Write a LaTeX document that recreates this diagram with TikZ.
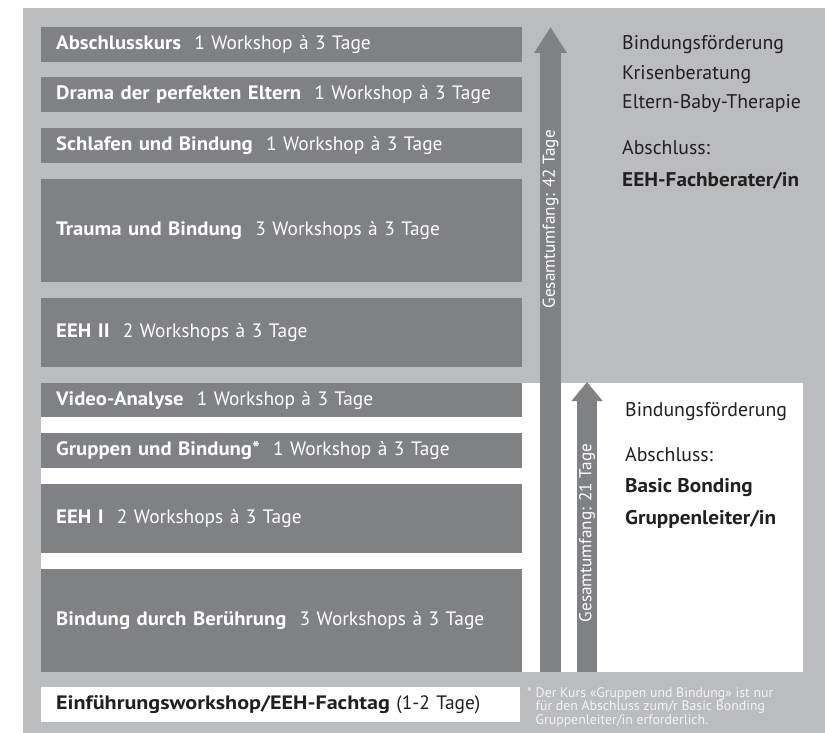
\documentclass[tikz,border=0pt]{standalone}
\usepackage{fontspec}
\usepackage{graphicx}
\setmainfont{PT Sans}[BoldFeatures={FakeStretch=1.07}]
\usetikzlibrary{arrows.meta}
\definecolor{bggrey}{HTML}{BBBCBF}
\definecolor{boxgrey}{HTML}{808185}
\definecolor{txtdark}{HTML}{231F20}
\definecolor{fnote}{HTML}{F4F4F4}
\newcommand{\gapsp}{\hspace{0.68em}}
\begin{document}
\begin{tikzpicture}[x=1pt,y=-1pt,
  box/.style={fill=boxgrey, text=white, anchor=north west, inner xsep=15pt, inner ysep=0pt,
    text width=451pt, align=left, font=\fontsize{19.4}{22}\selectfont},
  whitebox/.style={box, fill=white, text=txtdark, text width=449pt},
  sidetext/.style={anchor=west, inner sep=0pt, text=txtdark, font=\fontsize{19.8}{22}\selectfont},
  bigarrow/.style={boxgrey, line width=21pt, -{Triangle[width=31pt,length=26pt]}},
  smallarrow/.style={boxgrey, line width=20pt, -{Triangle[width=30pt,length=19pt]}},
  arrowlabel/.style={rotate=90, text=white, inner sep=0pt, font=\fontsize{17.2}{20}\selectfont},
  footnote/.style={anchor=north west, inner sep=0pt, align=left, text=fnote, font=\fontsize{13.8}{13.6}\selectfont}
]
\useasboundingbox (0,0) rectangle (825,733);
\fill[bggrey] (23,8) rectangle (825,733);
\fill[white] (41,383) rectangle (803,672);

% course boxes
\node[box, minimum height=35pt] (abschluss) at (41,27) {\textbf{Abschlusskurs}\gapsp 1 Workshop à 3 Tage};
\node[box, minimum height=35pt] (drama) at (41,77) {\textbf{Drama der perfekten Eltern}\gapsp 1 Workshop à 3 Tage};
\node[box, minimum height=35pt] (schlafen) at (41,128) {\textbf{Schlafen und Bindung}\gapsp 1 Workshop à 3 Tage};
\node[box, minimum height=103pt] (trauma) at (41,179) {\textbf{Trauma und Bindung}\gapsp 3 Workshops à 3 Tage};
\node[box, minimum height=69pt] (eeh2) at (41,298) {\textbf{EEH II}\gapsp 2 Workshops à 3 Tage};
\node[box, minimum height=34pt] (video) at (41,383) {\textbf{Video-Analyse}\gapsp 1 Workshop à 3 Tage};
\node[box, minimum height=35pt] (gruppen) at (41,433) {\textbf{Gruppen und Bindung*}\gapsp 1 Workshop à 3 Tage};
\node[box, minimum height=69pt] (eeh1) at (41,484) {\textbf{EEH I}\gapsp 2 Workshops à 3 Tage};
\node[box, minimum height=103pt] (beruehrung) at (41,569) {\textbf{Bindung durch Berührung}\gapsp 3 Workshops à 3 Tage};
\node[whitebox, minimum height=35pt] (einf) at (41,687) {\scalebox{1.065}[1]{\textbf{Einführungsworkshop/EEH-Fachtag}} (1-2 Tage)};

% arrows
\coordinate (big start) at (550.5,672);
\coordinate (big tip) at (550.5,27);
\coordinate (small start) at (587,672);
\coordinate (small tip) at (587,382);
\draw[bigarrow] (big start) -- (big tip)
  node[arrowlabel, pos=0.702] (biglabel) {Gesamtumfang: 42 Tage};
\draw[smallarrow] (small start) -- (small tip)
  node[arrowlabel, pos=0.479] (smalllabel) {Gesamtumfang: 21 Tage};

% right texts, upper
\node[sidetext] (u1) at (622,45) {Bindungsförderung};
\node[sidetext] (u2) at (622,75) {Krisenberatung};
\node[sidetext] (u3) at (622,104) {Eltern-Baby-Therapie};
\node[sidetext] (u4) at (622,148) {Abschluss:};
\node[sidetext] (u5) at (622,181) {\textbf{EEH-Fachberater/in}};

% right texts, lower
\node[sidetext] (l1) at (625,412) {Bindungsförderung};
\node[sidetext] (l2) at (625,455) {Abschluss:};
\node[sidetext] (l3) at (625,488) {\textbf{Basic Bonding}};
\node[sidetext] (l4) at (625,519) {\textbf{Gruppenleiter/in}};

% footnote
\node[footnote] (fn) at (527,687) {* Der Kurs «Gruppen und Bindung» ist nur\\
\hphantom{*\ }für den Abschluss zum/r Basic Bonding\\
\hphantom{*\ }Gruppenleiter/in erforderlich.};
\end{tikzpicture}
\end{document}
